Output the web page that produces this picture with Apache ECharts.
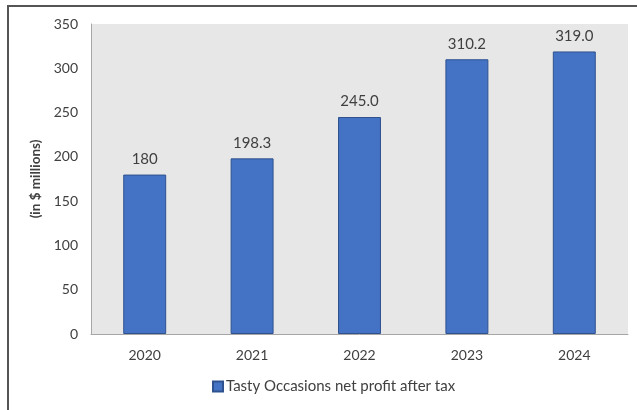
<!DOCTYPE html>
<html>
<head>
<meta charset="utf-8">
<script src="https://cdn.jsdelivr.net/npm/echarts@6/dist/echarts.min.js"></script>
<style>
  html, body { margin: 0; padding: 0; background: #fff; }
  #wrap { position: relative; width: 637px; height: 410px; }
  #frame { position: absolute; left: 7px; top: 5px; width: 640px; height: 420px;
           border-left: 2px solid #555; border-top: 2px solid #555; box-sizing: border-box; }
  #chart { position: absolute; left: 0; top: 0; width: 637px; height: 410px; }
</style>
</head>
<body>
<div id="wrap">
  <div id="frame"></div>
  <div id="chart"></div>
</div>
<script>
// Net profit after tax, in $ millions
const years = ['2020', '2021', '2022', '2023', '2024'];
const profit = [180, 198.3, 245.0, 310.2, 319.0];
const profitLabels = ['180', '198.3', '245.0', '310.2', '319.0'];
const yTicks = { min: 0, max: 350, interval: 50 };
const seriesName = 'Tasty Occasions net profit after tax';

const textColor = '#404040';
const font = 'Lato, "Open Sans", sans-serif';

const chart = echarts.init(document.getElementById('chart'));
chart.setOption({
  animation: false,
  grid: { left: 91, right: 9, top: 24, bottom: 76, backgroundColor: '#e7e7e7', show: true, borderWidth: 0 },
  legend: {
    bottom: 11, left: 207,
    itemWidth: 10, itemHeight: 10, itemGap: 10,
    icon: 'rect',
    textStyle: { color: textColor, fontSize: 15, fontFamily: font, padding: [0, 0, 0, -2] },
    data: [seriesName]
  },
  xAxis: {
    type: 'category',
    data: years,
    axisLine: { lineStyle: { color: '#a6a6a6', width: 1 } },
    axisTick: { show: false },
    axisLabel: { color: textColor, fontSize: 14, fontFamily: font, margin: 14 }
  },
  yAxis: {
    type: 'value',
    min: yTicks.min, max: yTicks.max, interval: yTicks.interval,
    name: '(in $ millions)',
    nameLocation: 'middle',
    nameGap: 47,
    nameTextStyle: { color: textColor, fontSize: 13.5, fontWeight: 'bold', fontFamily: font },
    axisLine: { show: true, lineStyle: { color: '#a6a6a6', width: 1 } },
    axisTick: { show: false },
    splitLine: { show: false },
    axisLabel: { color: textColor, fontSize: 14, fontFamily: font, margin: 13 }
  },
  series: [{
    name: seriesName,
    type: 'bar',
    data: profit,
    barWidth: '40%',
    itemStyle: { color: '#4472c4', borderColor: '#2f528f', borderWidth: 1 },
    label: {
      show: true, position: 'top', distance: 8,
      color: textColor, fontSize: 15, fontFamily: font,
      formatter: p => profitLabels[p.dataIndex]
    }
  }]
});
</script>
</body>
</html>
